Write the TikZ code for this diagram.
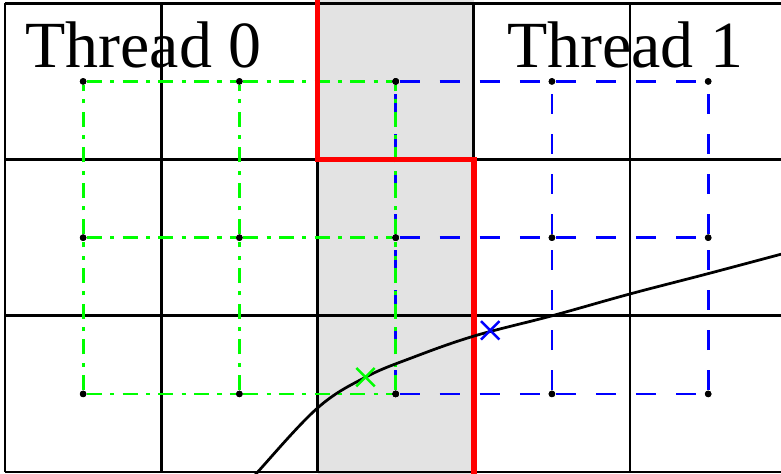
\documentclass[tikz,border=0pt]{standalone}
\usepackage{fontspec}
\setmainfont{Liberation Serif}
\usetikzlibrary{shapes.misc}
\definecolor{puregreen}{RGB}{0,255,0}
\definecolor{pureblue}{RGB}{0,0,255}
\definecolor{purered}{RGB}{255,0,0}
\tikzstyle{dot} = [
    circle,
    fill=black,
    inner sep=0pt,
    minimum size=2.4pt
]
\tikzstyle{xmark} = [
    cross out,
    draw,
    line width=0.9pt,
    inner sep=0pt,
    minimum size=5.8pt
]
\tikzstyle{greenline} = [puregreen, line width=1pt,
    dash pattern=on 5.5pt off 3pt on 1.5pt off 3pt]
\tikzstyle{blueline} = [pureblue, line width=1pt,
    dash pattern=on 7.3pt off 7.3pt]
\tikzstyle{threadlabel} = [anchor=base west, inner sep=0pt,
    font=\fontsize{24}{28}\selectfont]

\begin{document}
\begin{tikzpicture}[x=2cm, y=2cm]

\useasboundingbox (-0.032,-0.006) rectangle (4.966,3.021);
\clip (-0.032,-0.006) rectangle (4.966,3.021);

% shared column
\fill[black!11] (2,-0.1) rectangle (3,3.1);
\draw[line width=1pt, step=2cm] (0,0) grid (5,3);

% grid points of both threads
\foreach \i in {0,1,2} {
    \foreach \j in {0,1,2} {
        \node (g-\i-\j) [dot] at (0.5+\i, 0.5+\j) {};
        \node (b-\i-\j) [dot] at (2.5+\i, 0.5+\j) {};
    }
}

\foreach \j in {0,1,2} {
    \draw [blueline] (b-0-\j) -- (b-1-\j) -- (b-2-\j);
    \draw [blueline] (b-\j-0) -- (b-\j-1) -- (b-\j-2);
}
\foreach \j in {0,1,2} {
    \draw [greenline] (g-0-\j) -- (g-1-\j) -- (g-2-\j);
    \draw [greenline] (g-\j-0) -- (g-\j-1) -- (g-\j-2);
}
\foreach \i in {0,1,2} {
    \foreach \j in {0,1,2} {
        \node [dot] at (g-\i-\j) {};
        \node [dot] at (b-\i-\j) {};
    }
}

% partition boundary
\draw[purered, line width=2pt] (2,3.2) -- (2,2) -- (3,2) -- (3,-0.2);

% curve
\draw[line width=1pt] plot[smooth, tension=0.6] coordinates {
    (1.45,-0.2) (1.617,0) (2,0.41) (2.307,0.607) (2.6,0.73)
    (3,0.87) (3.5,1.0) (4,1.14) (4.5,1.27) (5.1,1.43)};

\node (xg) [xmark, puregreen] at (2.307,0.607) {};
\node (xb) [xmark, pureblue] at (3.105,0.907) {};

\node (t0) [threadlabel] at (0.128,2.59) {Thread 0};
\node (t1) [threadlabel] at (3.21,2.59) {Thread 1};

\end{tikzpicture}
\end{document}
